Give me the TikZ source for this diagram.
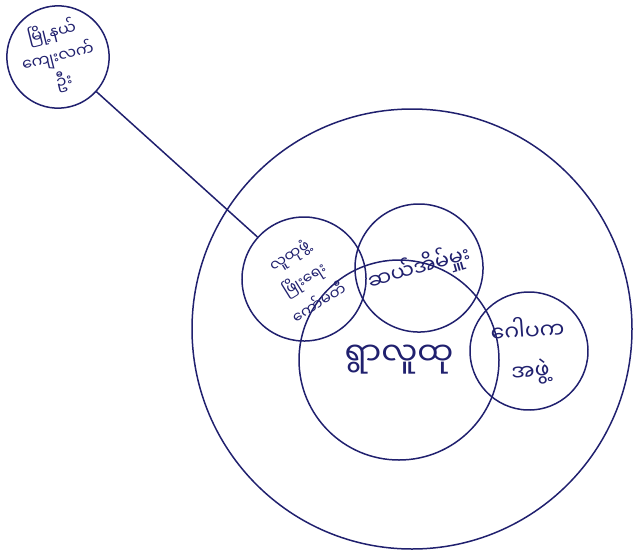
\documentclass[tikz,border=0pt]{standalone}
\usepackage{fontspec}
\newfontfamily\mmfont[Script=Myanmar]{Noto Sans Myanmar UI}
\usetikzlibrary{positioning}
\definecolor{ink}{RGB}{32,32,110}

\begin{document}
\begin{tikzpicture}[x=1pt,y=-1pt, every node/.style={align=center,text=ink,font=\mmfont},
  ring/.style={draw=ink,line width=1.5pt,circle,inner sep=0pt},
  arr/.style={draw=ink,line width=1.5pt}]
\useasboundingbox (0,0) rectangle (634,555);
\draw[ring] (412,329) circle (220);
\node[ring,minimum size=100,rotate=14,font=\mmfont\fontsize{16}{25}\selectfont] (township) at (58,57) {မြို့နယ်\\ကျေးလက်\\ဦး};
\node[ring,minimum size=200,font=\mmfont\fontsize{32}{34}\selectfont] (community) at (399,360) {\raisebox{-6pt}{ရွာလူထု}};
\node[ring,minimum size=124,rotate=32,font=\mmfont\fontsize{15}{28}\selectfont] (cdc) at (304,279) {လူထုဖွံ့\\ဖြိုးရေး\\ကော်မတီ};
\node[ring,minimum size=128,rotate=16,font=\mmfont\fontsize{21}{24}\selectfont] (elder) at (419,268) {\raisebox{-10pt}{ဆယ်အိမ်မှူး}};
\node[ring,minimum size=118,rotate=4,font=\mmfont\fontsize{22}{40}\selectfont] (trustee) at (529,351) {ဂေါပက\\အဖွဲ့};
\draw[arr] (township) -- (cdc);
\end{tikzpicture}
\end{document}
